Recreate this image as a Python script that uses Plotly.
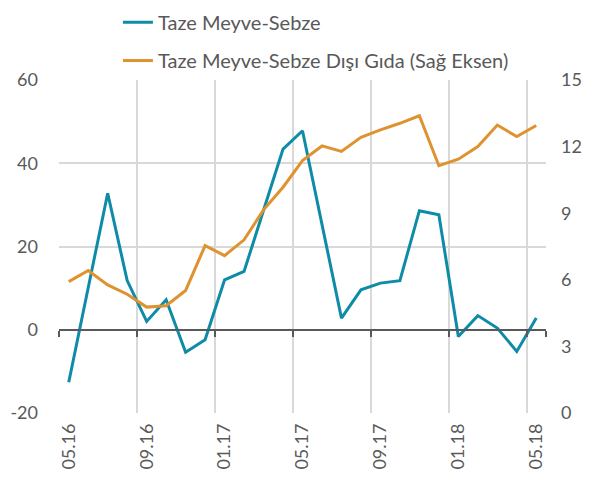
import plotly.graph_objects as go

months = ["05.16","06.16","07.16","08.16","09.16","10.16","11.16","12.16",
          "01.17","02.17","03.17","04.17","05.17","06.17","07.17","08.17",
          "09.17","10.17","11.17","12.17","01.18","02.18","03.18","04.18","05.18"]

taze = [-12.6, 10.0, 32.8, 11.8, 2.0, 7.2, -5.4, -2.4, 12.0, 14.0, 28.5, 43.4, 47.8,
        25.0, 2.8, 9.6, 11.2, 11.8, 28.6, 27.6, -1.6, 3.4, 0.4, -5.2, 2.8]

disi = [5.92, 6.42, 5.77, 5.35, 4.77, 4.83, 5.52, 7.54, 7.09, 7.8, 9.15, 10.17, 11.37,
        12.03, 11.78, 12.42, 12.75, 13.05, 13.39, 11.14, 11.43, 12.0, 12.97, 12.45, 12.95]

left_ticks = [-20, 0, 20, 40, 60]
right_ticks = [0, 3, 6, 9, 12, 15]
x_ticks = months[::4]

BLUE = "#0E8BA6"
ORANGE = "#DF9230"
GRAY = "#595959"
GRID = "#D9D9D9"
FONT = "Lato"

fig = go.Figure()
fig.add_trace(go.Scatter(x=months, y=taze, mode="lines", name="Taze Meyve-Sebze",
                         line=dict(color=BLUE, width=3), legend="legend"))
fig.add_trace(go.Scatter(x=months, y=disi, mode="lines", name="Taze Meyve-Sebze Dışı Gıda (Sağ Eksen)",
                         line=dict(color=ORANGE, width=3), yaxis="y2", legend="legend2"))
# helper trace for the zero-crossing category axis
fig.add_trace(go.Scatter(x=months, y=taze, mode="none", xaxis="x2", showlegend=False,
                         hoverinfo="skip"))

leg_common = dict(xanchor="left", yanchor="top", orientation="v",
                  font=dict(size=20, color=GRAY), bgcolor="rgba(0,0,0,0)")

fig.update_layout(
    width=603, height=487,
    margin=dict(l=51, r=65, t=72, b=82, autoexpand=False),
    paper_bgcolor="white", plot_bgcolor="white",
    font=dict(family=FONT, color=GRAY, size=18),
    showlegend=True,
    legend=dict(x=0.121, y=1.232, **leg_common),
    legend2=dict(x=0.121, y=1.117, **leg_common),
    xaxis=dict(type="category", categoryorder="array", categoryarray=months,
               range=[-0.5, len(months) - 0.5],
               tickmode="array", tickvals=x_ticks, ticktext=x_ticks,
               tickson="boundaries", tickangle=-90, ticks="",
               showgrid=True, gridcolor=GRID, gridwidth=1.5,
               showline=False, zeroline=False, ticklabelstandoff=6),
    xaxis2=dict(type="category", categoryorder="array", categoryarray=months,
                range=[-0.5, len(months) - 0.5], overlaying="x", anchor="free",
                position=0.25, tickmode="array", tickvals=x_ticks,
                tickson="boundaries", ticks="outside", ticklen=6, tickwidth=1.5,
                tickcolor=GRAY, showline=True, linecolor=GRAY, linewidth=1.5,
                showticklabels=False, showgrid=False, zeroline=False),
    yaxis=dict(range=[-20, 60], tickvals=left_ticks,
               ticktext=[str(v) for v in left_ticks],
               showgrid=True, gridcolor=GRID,
               gridwidth=1.5, zeroline=False, showline=False, ticks="",
               ticklabelstandoff=20),
    yaxis2=dict(range=[0, 15], tickvals=right_ticks, overlaying="y", side="right",
                showgrid=False, zeroline=False, showline=False, ticks="",
                ticklabelstandoff=14),
)

fig.write_html("out.html")
